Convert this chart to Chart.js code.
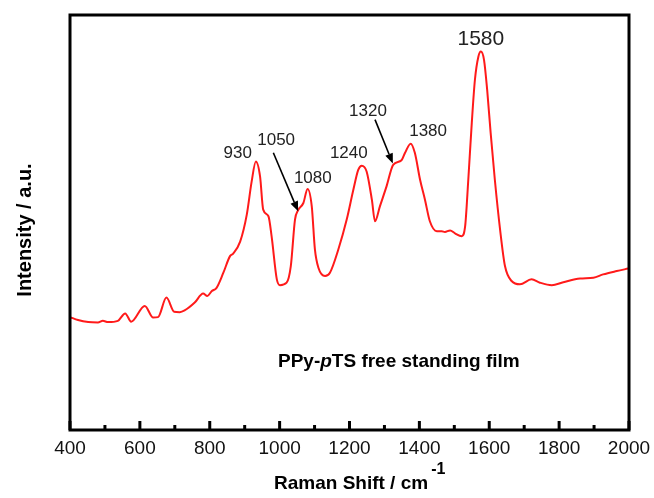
<!DOCTYPE html>
<html>
<head>
<meta charset="utf-8">
<script src="https://cdn.jsdelivr.net/npm/chart.js@4"></script>
<style>
  body { margin: 0; background: #fff; }
</style>
</head>
<body>
<canvas id="myChart" width="654" height="498"></canvas>
<script>
// spectrum (Raman shift in cm-1, intensity in a.u.)
const wavenumber = [400, 423, 452, 480, 494, 509, 537, 558, 575, 614, 638, 652, 676, 698, 714, 728, 757, 781, 793, 806,
  819, 839, 858, 867, 887, 906, 920, 932, 944, 953, 968, 977, 992, 1001, 1020, 1032, 1044, 1053, 1068, 1080,
  1092, 1101, 1111, 1130, 1144, 1168, 1192, 1211, 1225, 1235, 1249, 1264, 1273, 1287, 1306, 1325, 1349, 1359, 1375, 1387,
  1402, 1416, 1430, 1450, 1464, 1473, 1488, 1502, 1521, 1531, 1540, 1550, 1559, 1569, 1576, 1585, 1594, 1604, 1616, 1631,
  1645, 1664, 1688, 1721, 1745, 1779, 1812, 1860, 1898, 1926, 1965, 1998];
const intensity = [27.2, 26.5, 26.0, 25.9, 26.3, 26.0, 26.3, 28.1, 26.1, 29.9, 27.1, 27.2, 31.9, 28.5, 28.4, 28.8, 30.7, 32.9, 32.3, 33.5,
  34.2, 37.9, 41.9, 42.5, 45.4, 51.9, 59.9, 64.7, 61.1, 53.1, 51.5, 46.7, 36.3, 34.9, 35.5, 39.5, 50.7, 53.0, 54.7, 58.1,
  53.9, 43.5, 39.1, 37.1, 37.9, 43.5, 50.7, 57.9, 62.7, 63.7, 62.3, 55.5, 50.3, 53.9, 58.7, 63.9, 65.0, 66.8, 69.0, 66.8,
  60.3, 55.5, 50.3, 47.9, 47.9, 47.7, 48.1, 47.4, 46.7, 49.1, 60.3, 74.0, 84.4, 90.0, 91.2, 89.2, 82.0, 71.6, 60.3, 48.3,
  39.5, 35.9, 35.1, 36.3, 35.5, 34.9, 35.6, 36.5, 36.7, 37.5, 38.3, 38.9];

// axis ticks
const majorTicks = [400, 600, 800, 1000, 1200, 1400, 1600, 1800, 2000];
const minorTicks = [500, 700, 900, 1100, 1300, 1500, 1700, 1900];

// peak labels: text, x, y (data units)
const peakLabels = ["930", "1050", "1080", "1240", "1320", "1380", "1580"];
const peakLabelX = [880, 990, 1095, 1198, 1253, 1425, 1576];
const peakLabelY = [66.7, 69.7, 60.7, 66.6, 76.8, 71.9, 94.1];

// arrows: from (tail) -> to (head) in data units
const arrowFromX = [982, 1273];
const arrowFromY = [66.8, 74.8];
const arrowToX = [1053, 1324];
const arrowToY = [52.7, 64.2];

const sampleName = ["PPy-", "p", "TS free standing film"];

const decorations = {
  id: "decorations",
  afterDraw(chart) {
    const ctx = chart.ctx;
    const area = chart.chartArea;
    const xs = chart.scales.x;
    const ys = chart.scales.y;
    ctx.save();

    // frame
    ctx.strokeStyle = "#000";
    ctx.lineWidth = 3;
    ctx.strokeRect(area.left, area.top, area.right - area.left, area.bottom - area.top);

    // inward ticks on the bottom axis
    ctx.lineWidth = 3;
    majorTicks.forEach((v) => {
      const px = xs.getPixelForValue(v);
      ctx.beginPath();
      ctx.moveTo(px, area.bottom);
      ctx.lineTo(px, area.bottom - 9);
      ctx.stroke();
    });
    minorTicks.forEach((v) => {
      const px = xs.getPixelForValue(v);
      ctx.beginPath();
      ctx.moveTo(px, area.bottom);
      ctx.lineTo(px, area.bottom - 5);
      ctx.stroke();
    });

    // peak labels
    ctx.fillStyle = "#222";
    ctx.textAlign = "center";
    ctx.textBaseline = "middle";
    peakLabels.forEach((t, i) => {
      ctx.font = t === "1580" ? "21px Arial, 'Liberation Sans'" : "17px Arial, 'Liberation Sans'";
      ctx.fillText(t, xs.getPixelForValue(peakLabelX[i]), ys.getPixelForValue(peakLabelY[i]));
    });

    // arrows
    ctx.strokeStyle = "#000";
    ctx.fillStyle = "#000";
    ctx.lineWidth = 1.6;
    arrowFromX.forEach((v, i) => {
      const x1 = xs.getPixelForValue(v);
      const y1 = ys.getPixelForValue(arrowFromY[i]);
      const x2 = xs.getPixelForValue(arrowToX[i]);
      const y2 = ys.getPixelForValue(arrowToY[i]);
      const ang = Math.atan2(y2 - y1, x2 - x1);
      const headLen = 10;
      const bx = x2 - headLen * Math.cos(ang);
      const by = y2 - headLen * Math.sin(ang);
      ctx.beginPath();
      ctx.moveTo(x1, y1);
      ctx.lineTo(bx, by);
      ctx.stroke();
      ctx.beginPath();
      ctx.moveTo(x2, y2);
      ctx.lineTo(bx + 4 * Math.sin(ang), by - 4 * Math.cos(ang));
      ctx.lineTo(bx - 4 * Math.sin(ang), by + 4 * Math.cos(ang));
      ctx.closePath();
      ctx.fill();
    });

    // sample name, "p" in italics
    ctx.fillStyle = "#000";
    ctx.textAlign = "left";
    ctx.textBaseline = "alphabetic";
    let tx = 278;
    sampleName.forEach((part, i) => {
      ctx.font = (i === 1 ? "italic " : "") + "bold 19px Arial, 'Liberation Sans'";
      ctx.fillText(part, tx, 367);
      tx += ctx.measureText(part).width;
    });

    // x axis title with superscript
    ctx.font = "bold 19px Arial, 'Liberation Sans'";
    const xTitle = "Raman Shift / cm";
    ctx.fillText(xTitle, 274, 489);
    const tw = ctx.measureText(xTitle).width;
    ctx.font = "bold 16px Arial, 'Liberation Sans'";
    ctx.fillText("-1", 274 + tw + 3, 474);

    // y axis title
    ctx.translate(25, 230);
    ctx.rotate(-Math.PI / 2);
    ctx.textAlign = "center";
    ctx.textBaseline = "middle";
    ctx.font = "bold 20px Arial, 'Liberation Sans'";
    ctx.fillText("Intensity / a.u.", 0, 0);

    ctx.restore();
  },
};

const ctx = document.getElementById("myChart").getContext("2d");
new Chart(ctx, {
  type: "line",
  data: {
    datasets: [
      {
        label: "PPy-pTS",
        data: wavenumber.map((w, i) => ({ x: w, y: intensity[i] })),
        borderColor: "#ff1a1a",
        borderWidth: 2,
        pointRadius: 0,
        cubicInterpolationMode: "monotone",
        fill: false,
      },
    ],
  },
  options: {
    responsive: false,
    animation: false,
    layout: { padding: { left: 70, top: 15, right: 25, bottom: 0 } },
    plugins: { legend: { display: false }, tooltip: { enabled: false } },
    scales: {
      x: {
        type: "linear",
        min: 400,
        max: 2000,
        afterFit: (scale) => {
          scale.height = 68;
          scale.paddingLeft = 0;
          scale.paddingRight = 0;
        },
        afterBuildTicks: (scale) => { scale.ticks = majorTicks.map((v) => ({ value: v })); },
        grid: { display: false, drawTicks: false },
        border: { display: false },
        ticks: {
          color: "#111",
          padding: 7,
          maxRotation: 0,
          autoSkip: false,
          font: { family: "Arial, 'Liberation Sans'", size: 19 },
          callback: (v) => String(v),
        },
      },
      y: {
        display: false,
        min: 0,
        max: 100,
      },
    },
  },
  plugins: [decorations],
});
</script>
</body>
</html>
